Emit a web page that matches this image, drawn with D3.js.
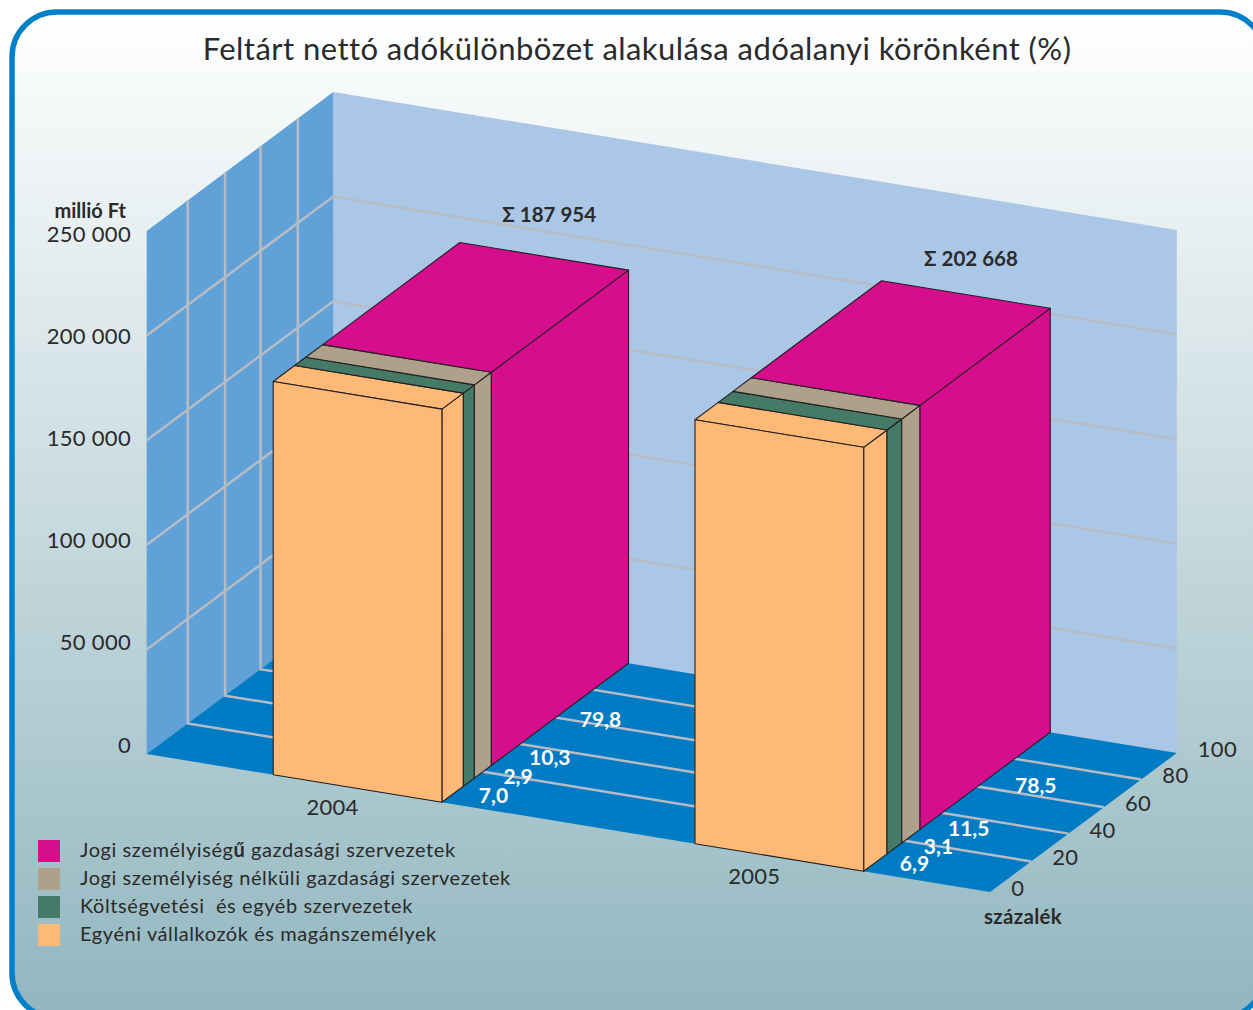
<!DOCTYPE html>
<html lang="hu">
<head>
<meta charset="utf-8">
<script src="https://cdn.jsdelivr.net/npm/d3@7"></script>
<style>
html, body { margin: 0; padding: 0; background: #fff; overflow: hidden; }
svg { display: block; }
text { font-family: Lato, "Open Sans", sans-serif; fill: #2b2a2a; }
.bold { font-weight: 700; }
.value { fill: #fff; font-weight: 700; font-size: 21px; }
.grid { stroke: #b7bcc4; stroke-width: 2.5; fill: none; }
.face { stroke: #231f20; stroke-width: 1.1; stroke-linejoin: round; }
.yaxis text { font-size: 22px; letter-spacing: 0.3px; fill: #2b2a2a; }
</style>
</head>
<body>
<script>
const WIDTH = 1253;
const HEIGHT = 1010;

const years = ['2004', '2005'];
const totals = [187954, 202668];
const seriesNames = [
	'Egyéni vállalkozók és magánszemélyek',
	'Költségvetési  és egyéb szervezetek',
	'Jogi személyiség nélküli gazdasági szervezetek',
	'Jogi személyiségű gazdasági szervezetek'
];
const seriesColors = ['#fdb975', '#457a66', '#afa08c', '#d60d8c'];

// printed percentages, front to back
const printed2004 = [7.0, 2.9, 10.3, 79.8];
const printed2005 = [6.9, 3.1, 11.5, 78.5];
// the slices as they are actually drawn in the picture, not the same as the printed numbers
const drawn2004 = [11.5, 5.9, 9.1, 73.5];
const drawn2005 = [12.5, 7.9, 9.8, 69.8];

const valueTicks = [0, 50000, 100000, 150000, 200000, 250000];
const percentTicks = [0, 20, 40, 60, 80, 100];

// floor spot of each printed number: depth in percent, and how far right of the bar
const labelDepth2004 = [9.1, 22.7, 37, 64.2];
const labelDepth2005 = [9.6, 22, 35.5, 67.4];
const labelAlong2004 = [0.041, 0.04, 0.046, 0.046];
const labelAlong2005 = [0.039, 0.04, 0.046, 0.055];

const FLOOR_ORIGIN = [146.7, 754];
const WIDTH_VEC = [843.5, 138];
const DEPTH_VEC = [186.6, -139];
const WALL_HEIGHT = 523;

const hu = d3.formatLocale({decimal: ',', thousands: ' ', grouping: [3], currency: ['', ' Ft']});
const fmtThousands = hu.format(',');
const fmtPct = hu.format('.1f');

// scales, all of them in the flat plane before the oblique projection
const _xScale = d3.scaleBand().domain(years).range([0, 1]).paddingInner(0.6).paddingOuter(0.3);
const _yScale = d3.scaleLinear().domain([0, 250000]).range([0, WALL_HEIGHT]);
const _depthScale = d3.scaleLinear().domain([0, 100]).range([0, 1]);
// gridlines in the original are not quite evenly spaced
const _gridScale = d3.scaleLinear().domain(percentTicks).range([0, 0.22, 0.42, 0.61, 0.81, 1]);
// the y tick labels do not sit exactly at the gridlines either
const _yLabelScale = d3.scaleLinear().domain([0, 250000]).range([745, 234]);

var project = function(u, v, d){
	return [
		FLOOR_ORIGIN[0] + u*WIDTH_VEC[0] + d*DEPTH_VEC[0],
		FLOOR_ORIGIN[1] + u*WIDTH_VEC[1] + d*DEPTH_VEC[1] - _yScale(v)
	];
}

var polyPoints = function(corners){
	return corners.map(function(c){ return c.join(','); }).join(' ');
}

var svg = d3.select('body').append('svg').attr('width', WIDTH).attr('height', HEIGHT);

var createBackground = function(){
	var grad = svg.append('defs').append('linearGradient')
		.attr('id', 'bg').attr('x1', 0).attr('y1', 0).attr('x2', 0).attr('y2', 1);
	grad.append('stop').attr('offset', '0%').attr('stop-color', '#ffffff');
	grad.append('stop').attr('offset', '100%').attr('stop-color', '#91b6bf');

	svg.append('rect')
		.attr('x', 12).attr('y', 12)
		.attr('width', 1253).attr('height', 1006)
		.attr('rx', 45).attr('ry', 45)
		.attr('fill', 'url(#bg)')
		.attr('stroke', '#0080c8')
		.attr('stroke-width', 5.5);

	svg.append('text')
		.attr('x', 637).attr('y', 60)
		.attr('text-anchor', 'middle')
		.attr('font-size', 31)
		.attr('letter-spacing', '0.45px')
		.text('Feltárt nettó adókülönbözet alakulása adóalanyi körönként (%)');
}

var drawWalls = function(){
	var top = 250000;
	svg.append('polygon').attr('fill', '#abc7e8')
		.attr('points', polyPoints([project(0, 0, 1), project(1, 0, 1), project(1, top, 1), project(0, top, 1)]));
	svg.append('polygon').attr('fill', '#60a2d8')
		.attr('points', polyPoints([project(0, 0, 0), project(0, 0, 1), project(0, top, 1), project(0, top, 0)]));
	svg.append('polygon').attr('fill', '#007bc4')
		.attr('points', polyPoints([project(0, 0, 0), project(1, 0, 0), project(1, 0, 1), project(0, 0, 1)]));

	var grid = svg.append('g');
	var line = d3.line();
	// horizontal lines round the left and back wall
	valueTicks.slice(1, -1).forEach(function(v){
		grid.append('path').attr('class', 'grid')
			.attr('d', line([project(0, v, 0), project(0, v, 1), project(1, v, 1)]));
	});
	// depth lines: up the left wall, then across the floor
	percentTicks.slice(1, -1).forEach(function(p){
		var d = _gridScale(p);
		grid.append('path').attr('class', 'grid')
			.attr('d', line([project(0, 250000, d), project(0, 0, d), project(1, 0, d)]));
	});
}

var drawBar = function(year, total, drawn){
	var u0 = _xScale(year);
	var u1 = u0 + _xScale.bandwidth();
	var g = svg.append('g');
	var start = 0;
	var slices = drawn.map(function(share, i){
		var s = {d0: _depthScale(start), d1: _depthScale(start + share), color: seriesColors[i]};
		start += share;
		return s;
	});

	g.selectAll('polygon.side')
		.data(slices)
		.enter()
		.append('polygon')
		.attr('class', 'face side')
		.attr('fill', function(s){ return s.color; })
		.attr('points', function(s){
			return polyPoints([project(u1, 0, s.d0), project(u1, 0, s.d1), project(u1, total, s.d1), project(u1, total, s.d0)]);
		});

	g.selectAll('polygon.top')
		.data(slices)
		.enter()
		.append('polygon')
		.attr('class', 'face top')
		.attr('fill', function(s){ return s.color; })
		.attr('points', function(s){
			return polyPoints([project(u0, total, s.d0), project(u1, total, s.d0), project(u1, total, s.d1), project(u0, total, s.d1)]);
		});

	g.append('polygon')
		.attr('class', 'face')
		.attr('fill', seriesColors[0])
		.attr('points', polyPoints([project(u0, 0, 0), project(u1, 0, 0), project(u1, total, 0), project(u0, total, 0)]));
}

var drawLabels = function(){
	// y axis
	var yAxis = d3.axisLeft(_yLabelScale)
		.tickValues(valueTicks)
		.tickSize(0)
		.tickPadding(0)
		.tickFormat(function(v){ return fmtThousands(v); });
	svg.append('g')
		.attr('class', 'yaxis')
		.attr('transform', 'translate(131,0)')
		.call(yAxis)
		.call(function(g){ g.select('.domain').remove(); });

	svg.append('text').attr('class', 'bold')
		.attr('x', 126).attr('y', 218)
		.attr('text-anchor', 'end')
		.attr('font-size', 20)
		.text('millió Ft');

	// percent ticks along the right edge of the floor
	svg.append('g').selectAll('text')
		.data(percentTicks)
		.enter()
		.append('text')
		.attr('x', function(p){ return project(1, 0, _gridScale(p))[0] + 21; })
		.attr('y', function(p){ return project(1, 0, _gridScale(p))[1] + 4; })
		.attr('font-size', 22)
		.attr('letter-spacing', '0.3px')
		.text(function(p){ return p; });

	svg.append('text').attr('class', 'bold')
		.attr('x', 1023).attr('y', 924)
		.attr('text-anchor', 'middle')
		.attr('font-size', 20.5)
		.attr('letter-spacing', '0.3px')
		.text('százalék');

	// year labels and totals
	years.forEach(function(year, i){
		var mid = _xScale(year) + _xScale.bandwidth()/2;
		var front = project(mid, 0, 0);
		svg.append('text')
			.attr('x', front[0] - 25).attr('y', front[1] + 26)
			.attr('text-anchor', 'middle')
			.attr('font-size', 22)
			.attr('letter-spacing', '0.3px')
			.text(year);
		var back = project(mid, totals[i], 1);
		svg.append('text').attr('class', 'bold')
			.attr('x', back[0] + 5).attr('y', back[1] - 34 + (i == 0 ? 0 : 5))
			.attr('text-anchor', 'middle')
			.attr('font-size', 20.5)
			.text('Σ ' + fmtThousands(totals[i]));
	});

	// printed percentages on the floor
	var printed = [printed2004, printed2005];
	var depths = [labelDepth2004, labelDepth2005];
	var along = [labelAlong2004, labelAlong2005];
	years.forEach(function(year, i){
		var u1 = _xScale(year) + _xScale.bandwidth();
		var spot = function(j){ return project(u1 + along[i][j], 0, _depthScale(depths[i][j])); };
		svg.append('g').selectAll('text')
			.data(printed[i])
			.enter()
			.append('text')
			.attr('class', 'value')
			.attr('text-anchor', 'middle')
			.attr('x', function(v, j){ return spot(j)[0]; })
			.attr('y', function(v, j){ return spot(j)[1] + 7.5; })
			.text(function(v){ return fmtPct(v); });
	});
}

var drawLegend = function(){
	var rows = seriesNames.slice().reverse();
	var colors = seriesColors.slice().reverse();
	var legend = svg.append('g');
	var rowY = d3.scalePoint().domain(d3.range(rows.length)).range([840, 924]);

	legend.selectAll('rect')
		.data(rows)
		.enter()
		.append('rect')
		.attr('x', 38)
		.attr('y', function(d, i){ return rowY(i); })
		.attr('width', 22).attr('height', 22)
		.attr('fill', function(d, i){ return colors[i]; });

	legend.selectAll('text')
		.data(rows)
		.enter()
		.append('text')
		.attr('x', 80)
		.attr('y', function(d, i){ return rowY(i) + 17; })
		.attr('font-size', 20)
		.attr('letter-spacing', '0.58px')
		.style('white-space', 'pre')
		.each(function(d){
			var t = d3.select(this);
			// the long u in the first row is set bold in the original
			var k = d.indexOf('ű');
			if (k < 0) { t.text(d); return; }
			t.append('tspan').text(d.slice(0, k));
			t.append('tspan').attr('class', 'bold').text('ű');
			t.append('tspan').text(d.slice(k + 1));
		});
}

window.onload = function(){
	createBackground();
	drawWalls();
	drawBar(years[0], totals[0], drawn2004);
	drawBar(years[1], totals[1], drawn2005);
	drawLabels();
	drawLegend();
}
</script>
</body>
</html>
